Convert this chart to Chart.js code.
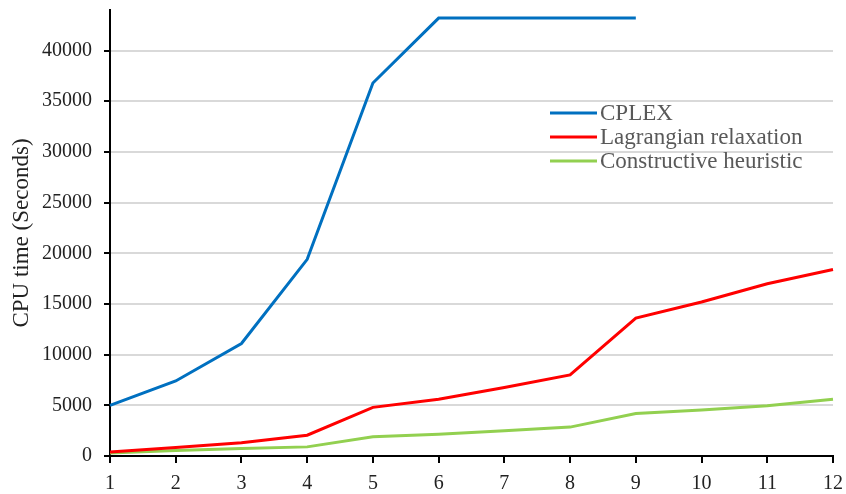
<!DOCTYPE html>
<html>
<head>
<meta charset="utf-8">
<script src="https://cdn.jsdelivr.net/npm/chart.js@4"></script>
<style>
  html, body { margin: 0; padding: 0; background: #fff; }
  #wrap { width: 846px; height: 494px; }
</style>
</head>
<body>
<div id="wrap"><canvas id="cpuChart" width="846" height="494"></canvas></div>
<script>
// data
const instances = ['1', '2', '3', '4', '5', '6', '7', '8', '9', '10', '11', '12'];
const cplex = [5000, 7400, 11100, 19400, 36800, 43200, 43200, 43200, 43200, null, null, null];
const lagrangian = [400, 850, 1300, 2050, 4800, 5600, 6750, 8000, 13600, 15200, 17000, 18400];
const heuristic = [300, 550, 750, 900, 1900, 2150, 2500, 2850, 4200, 4550, 4950, 5600];
const yTicks = [0, 5000, 10000, 15000, 20000, 25000, 30000, 35000, 40000];

const serif = 'Liberation Serif';

// legend drawn inside the plot, like the original
const insideLegend = {
  id: 'insideLegend',
  afterDraw(chart) {
    const ctx = chart.ctx;
    const x0 = 550, y0 = 113, row = 24;
    ctx.save();
    ctx.font = '23px "' + serif + '"';
    ctx.textBaseline = 'middle';
    chart.data.datasets.forEach((ds, i) => {
      const y = y0 + i * row;
      ctx.strokeStyle = ds.borderColor;
      ctx.lineWidth = 3;
      ctx.beginPath();
      ctx.moveTo(x0, y);
      ctx.lineTo(x0 + 47, y);
      ctx.stroke();
      ctx.fillStyle = '#595959';
      ctx.fillText(ds.label, x0 + 50, y + 1);
    });
    ctx.restore();
  }
};

const ctx = document.getElementById('cpuChart').getContext('2d');
new Chart(ctx, {
  type: 'line',
  data: {
    labels: instances,
    datasets: [
      { label: 'CPLEX', data: cplex, borderColor: '#0070C0' },
      { label: 'Lagrangian relaxation', data: lagrangian, borderColor: '#FF0000' },
      { label: 'Constructive heuristic', data: heuristic, borderColor: '#92D050' }
    ]
  },
  options: {
    responsive: false,
    animation: false,
    layout: { padding: { top: 10, right: 13, left: 8, bottom: 0 } },
    elements: {
      line: { borderWidth: 3, tension: 0, fill: false },
      point: { radius: 0 }
    },
    plugins: {
      legend: { display: false },
      tooltip: { enabled: false }
    },
    scales: {
      x: {
        offset: false,
        border: { color: '#000', width: 2 },
        grid: { display: true, drawOnChartArea: false, drawTicks: true, tickLength: 7, tickColor: '#000', lineWidth: 2 },
        ticks: { color: '#222', font: { family: serif, size: 20 }, padding: 9, maxRotation: 0 },
        afterFit: s => { s.height = 38; s.paddingLeft = 0; s.paddingRight = 0; }
      },
      y: {
        min: 0,
        max: 44000,
        border: { color: '#000', width: 2 },
        grid: { color: '#d9d9d9', lineWidth: 2, tickColor: '#000', tickLength: 6 },
        ticks: { color: '#222', font: { family: serif, size: 20 }, padding: 12, callback: v => String(v) },
        afterBuildTicks: s => { s.ticks = yTicks.map(v => ({ value: v })); },
        title: { display: true, text: 'CPU time (Seconds)', color: '#222', font: { family: serif, size: 23 }, padding: 0 },
        afterFit: s => { s.width = 102; s.paddingTop = 0; s.paddingBottom = 0; }
      }
    }
  },
  plugins: [insideLegend]
});
</script>
</body>
</html>
